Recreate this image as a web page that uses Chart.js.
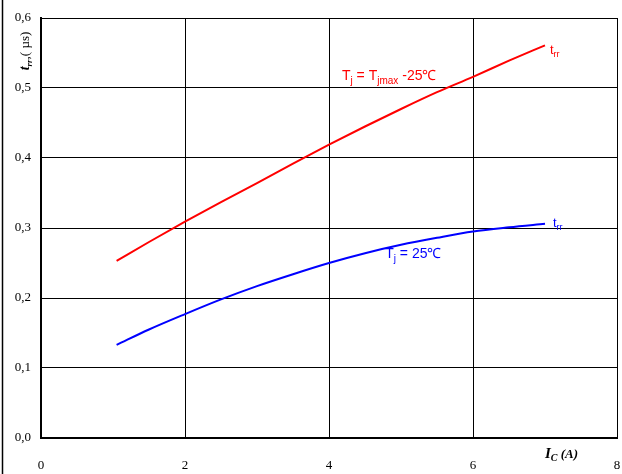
<!DOCTYPE html>
<html>
<head>
<meta charset="utf-8">
<script src="https://cdn.jsdelivr.net/npm/chart.js@4/dist/chart.umd.min.js"></script>
<style>
  html, body { margin: 0; padding: 0; background: #fff; }
  #wrap { width: 622px; height: 474px; }
</style>
</head>
<body>
<div id="wrap"><canvas id="grafico" width="622" height="474"></canvas></div>
<script>
// collector current (A)
const corrente = [1.05, 1.5, 2, 2.5, 3, 3.5, 4, 4.5, 5, 5.5, 6, 6.5, 7];
// trr (us) at Tj = Tjmax - 25C
const trrQuente = [0.253, 0.280, 0.309, 0.337, 0.364, 0.392, 0.419, 0.445, 0.470, 0.494, 0.516, 0.539, 0.561];
// trr (us) at Tj = 25C
const trrFrio = [0.133, 0.155, 0.177, 0.198, 0.217, 0.234, 0.250, 0.264, 0.276, 0.286, 0.295, 0.301, 0.306];

const xTicks = [0, 2, 4, 6, 8];
const yTickLabels = ['0,0', '0,1', '0,2', '0,3', '0,4', '0,5', '0,6'];

const serif = '"Liberation Serif", "Times New Roman", serif';
const sans = '"Liberation Sans", Arial, sans-serif';

// draws text pieces, some of them as subscript
function textoRico(ctx, x, y, partes) {
    let cx = x;
    partes.forEach(p => {
        ctx.font = p.font;
        ctx.fillText(p.t, cx, y + (p.dy || 0));
        cx += ctx.measureText(p.t).width;
    });
}

function larguraRica(ctx, partes) {
    let w = 0;
    partes.forEach(p => { ctx.font = p.font; w += ctx.measureText(p.t).width; });
    return w;
}

const textos = {
    id: 'textos',
    afterDraw(chart) {
        const ctx = chart.ctx;
        const xs = chart.scales.x;
        const ys = chart.scales.y;
        ctx.save();
        ctx.textBaseline = 'alphabetic';
        ctx.textAlign = 'left';

        // red curve labels
        ctx.fillStyle = '#ff0000';
        textoRico(ctx, xs.getPixelForValue(4.18), ys.getPixelForValue(0.511), [
            { t: 'T', font: '14px ' + sans },
            { t: 'j', font: '10px ' + sans, dy: 4 },
            { t: ' = T', font: '14px ' + sans },
            { t: 'jmax', font: '10px ' + sans, dy: 4 },
            { t: ' -25\u2103', font: '14px ' + sans }
        ]);
        const nq = corrente.length - 1;
        textoRico(ctx, xs.getPixelForValue(corrente[nq]) + 5, ys.getPixelForValue(trrQuente[nq]) + 9, [
            { t: 't', font: '13px ' + sans },
            { t: 'rr', font: '9px ' + sans, dy: 3 }
        ]);

        // blue curve labels
        ctx.fillStyle = '#0000ff';
        textoRico(ctx, xs.getPixelForValue(4.78), ys.getPixelForValue(0.257), [
            { t: 'T', font: '14px ' + sans },
            { t: 'j', font: '10px ' + sans, dy: 4 },
            { t: ' = 25\u2103', font: '14px ' + sans }
        ]);
        textoRico(ctx, xs.getPixelForValue(corrente[nq]) + 8, ys.getPixelForValue(trrFrio[nq]) + 3, [
            { t: 't', font: '13px ' + sans },
            { t: 'rr', font: '9px ' + sans, dy: 3 }
        ]);

        // axis titles
        ctx.fillStyle = '#000';
        textoRico(ctx, 545, 458, [
            { t: 'I', font: 'italic bold 15px ' + serif },
            { t: 'C', font: 'italic bold 10px ' + serif, dy: 3 },
            { t: ' (A)', font: 'italic bold 13px ' + serif }
        ]);

        const tituloY = [
            { t: 't', font: 'italic bold 14px ' + serif },
            { t: 'rr', font: 'italic bold 9px ' + serif, dy: 3 },
            { t: ',( \u00b5s)', font: '13px ' + serif }
        ];
        ctx.translate(29, 51);
        ctx.rotate(-Math.PI / 2);
        textoRico(ctx, -larguraRica(ctx, tituloY) / 2, 0, tituloY);
        ctx.restore();

        // outer frame line on the left
        ctx.save();
        ctx.strokeStyle = '#000';
        ctx.lineWidth = 1.5;
        ctx.beginPath();
        ctx.moveTo(2.5, 0);
        ctx.lineTo(2.5, 474);
        ctx.stroke();
        ctx.restore();
    }
};

new Chart(document.getElementById('grafico'), {
    type: 'line',

    data: {
        datasets: [{
            label: 'Tj = Tjmax -25C',
            data: corrente.map((c, i) => ({ x: c, y: trrQuente[i] })),
            borderColor: '#ff0000',
            borderWidth: 2,
            pointRadius: 0,
            cubicInterpolationMode: 'monotone',
            fill: false
        }, {
            label: 'Tj = 25C',
            data: corrente.map((c, i) => ({ x: c, y: trrFrio[i] })),
            borderColor: '#0000ff',
            borderWidth: 2,
            pointRadius: 0,
            cubicInterpolationMode: 'monotone',
            fill: false
        }]
    },

    options: {
        responsive: false,
        animation: false,
        layout: {
            autoPadding: false,
            padding: { left: 0, top: 18, right: 5, bottom: 0 }
        },
        plugins: {
            legend: { display: false },
            tooltip: { enabled: false }
        },

        scales: {
            x: {
                type: 'linear',
                min: 0,
                max: 8,
                afterBuildTicks: (scale) => {
                    scale.ticks = xTicks.map(v => ({ value: v }));
                },
                afterFit: (scale) => {
                    scale.height = 36;
                    scale.paddingLeft = 0;
                    scale.paddingRight = 0;
                },
                ticks: {
                    color: '#000',
                    padding: 20,
                    maxRotation: 0,
                    font: { family: serif, size: 13 }
                },
                grid: {
                    color: '#000',
                    lineWidth: 1,
                    drawTicks: false
                },
                border: { color: '#000', width: 2 }
            },

            y: {
                min: 0,
                max: 0.6,
                afterBuildTicks: (scale) => {
                    scale.ticks = yTickLabels.map((t, i) => ({ value: i / 10 }));
                },
                afterFit: (scale) => {
                    scale.width = 41;
                    scale.paddingTop = 0;
                    scale.paddingBottom = 0;
                },
                ticks: {
                    color: '#000',
                    padding: 10,
                    callback: (v, i) => yTickLabels[i],
                    font: { family: serif, size: 13 }
                },
                grid: {
                    color: '#000',
                    lineWidth: 1,
                    drawTicks: false
                },
                border: { color: '#000', width: 2 }
            }
        }
    },

    plugins: [textos]
});
</script>
</body>
</html>
